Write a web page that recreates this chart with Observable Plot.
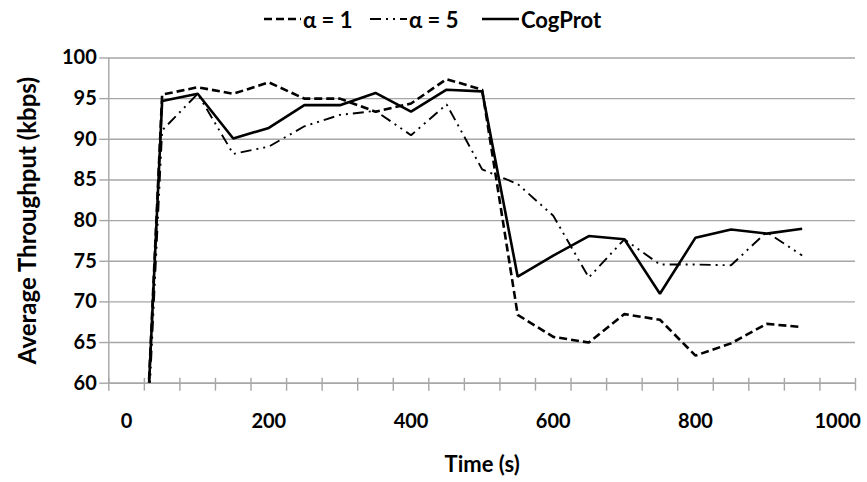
<!DOCTYPE html>
<html>
<head>
<meta charset="utf-8">
<script src="https://cdn.jsdelivr.net/npm/d3@7"></script>
<script src="https://cdn.jsdelivr.net/npm/@observablehq/plot@0.6"></script>
<style>
  html, body { margin: 0; padding: 0; background: #fff; }
  #wrap { width: 867px; height: 482px; position: relative; overflow: hidden; font-family: Lato, "Open Sans", sans-serif; }
  #legend { height: 38px; position: relative; font-weight: 700; font-size: 22px; color: #000; }
  #legend .item { position: absolute; top: 0; height: 38px; display: flex; align-items: center; white-space: nowrap; }
  #legend svg { margin-right: 2px; }
  #chart svg { display: block; }
</style>
</head>
<body>
<div id="wrap">
  <div id="legend"></div>
  <div id="chart"></div>
</div>
<script>
// categories (time, s)
const times = [0, 50, 100, 150, 200, 250, 300, 350, 400, 450, 500, 550, 600, 650, 700, 750, 800, 850, 900, 950];
// series values (average throughput, kbps)
const alpha1 = [0, 95.5, 96.4, 95.6, 97.0, 95.0, 95.0, 93.4, 94.4, 97.4, 96.1, 68.4, 65.7, 65.0, 68.5, 67.8, 63.4, 64.9, 67.3, 66.9];
const alpha5 = [0, 91.1, 95.6, 88.2, 89.1, 91.6, 93.0, 93.5, 90.5, 94.3, 86.3, 84.5, 80.6, 73.0, 77.7, 74.6, 74.6, 74.5, 78.6, 75.7];
const cogprot = [0, 94.7, 95.6, 90.1, 91.4, 94.2, 94.2, 95.7, 93.4, 96.1, 95.9, 73.1, 75.7, 78.1, 77.7, 71.0, 77.9, 78.9, 78.4, 79.0];
// tick labels
const yTicks = [60, 65, 70, 75, 80, 85, 90, 95, 100];
const xLabels = [0, 200, 400, 600, 800, 1000];
const xCategoryEdges = d3.range(-25, 1026, 50);
const seriesNames = ["α = 1", "α = 5", "CogProt"];

const styles = {
  "α = 1": {strokeWidth: 2.6, dash: "8,4"},
  "α = 5": {strokeWidth: 1.9, dash: "11,5,2,5,2,5"},
  "CogProt": {strokeWidth: 2.6, dash: null}
};
const legendLeft = {"α = 1": 264, "α = 5": 370, "CogProt": 482};
const seriesValues = {"α = 1": alpha1, "α = 5": alpha5, "CogProt": cogprot};
const rows = seriesNames.flatMap(s => times.map((t, i) => ({series: s, time: t, value: seriesValues[s][i]})));

// legend
const legend = document.getElementById("legend");
for (const s of seriesNames) {
  const it = document.createElement("div");
  it.className = "item";
  it.style.left = legendLeft[s] + "px";
  const st = styles[s];
  it.innerHTML = `<svg width="37" height="10"><line x1="0" x2="37" y1="5" y2="5" stroke="#000" stroke-width="${st.strokeWidth}" ${st.dash ? `stroke-dasharray="${st.dash}"` : ""}/></svg><span>${s}</span>`;
  legend.appendChild(it);
}

const gray = "#a6a6a6";
const chart = Plot.plot({
  width: 867,
  height: 444,
  marginLeft: 108.3,
  marginRight: 12,
  marginTop: 19.5,
  marginBottom: 99.3,
  style: {fontFamily: "Lato, 'Open Sans', sans-serif", fontWeight: 700, fontSize: "20px", color: "#000", background: "#fff"},
  x: {domain: [-25, 1025]},
  y: {domain: [60, 100]},
  marks: [
    Plot.gridY(yTicks, {stroke: gray, strokeOpacity: 1, strokeWidth: 1.4}),
    Plot.ruleX([-25], {stroke: gray, strokeWidth: 1.4}),
    Plot.ruleY([60], {stroke: gray, strokeWidth: 1.4}),
    Plot.axisY({ticks: yTicks, tickSize: 9, stroke: gray, strokeWidth: 1.4, tickFormat: () => "", label: null}),
    Plot.axisY({ticks: yTicks, tickSize: 0, tickPadding: 12, fontSize: 20, fontWeight: 700, label: null}),
    Plot.axisX({ticks: xCategoryEdges, tickSize: 8, stroke: gray, strokeWidth: 1.4, tickFormat: () => "", label: null}),
    Plot.ruleX(xCategoryEdges, {y1: 60, y2: 60.6, stroke: gray, strokeWidth: 1.4}),
    Plot.axisX({ticks: xLabels, tickSize: 0, tickPadding: 31, fontSize: 20, fontWeight: 700, tickFormat: d => String(d), label: null}),
    ...seriesNames.map(s => Plot.line(rows.filter(d => d.series === s), {
      x: "time", y: "value", stroke: "#000",
      strokeWidth: styles[s].strokeWidth,
      strokeDasharray: styles[s].dash || undefined,
      strokeLinecap: "butt", strokeLinejoin: "miter", clip: true
    })),
    Plot.text(["Time (s)"], {frameAnchor: "bottom", dy: 89, fontSize: 22, fontWeight: 700, fill: "#000"}),
    Plot.text(["Average Throughput (kbps)"], {frameAnchor: "left", textAnchor: "middle", dx: -80, rotate: -90, fontSize: 24, fontWeight: 700, fill: "#000"})
  ]
});
document.getElementById("chart").appendChild(chart);
</script>
</body>
</html>
